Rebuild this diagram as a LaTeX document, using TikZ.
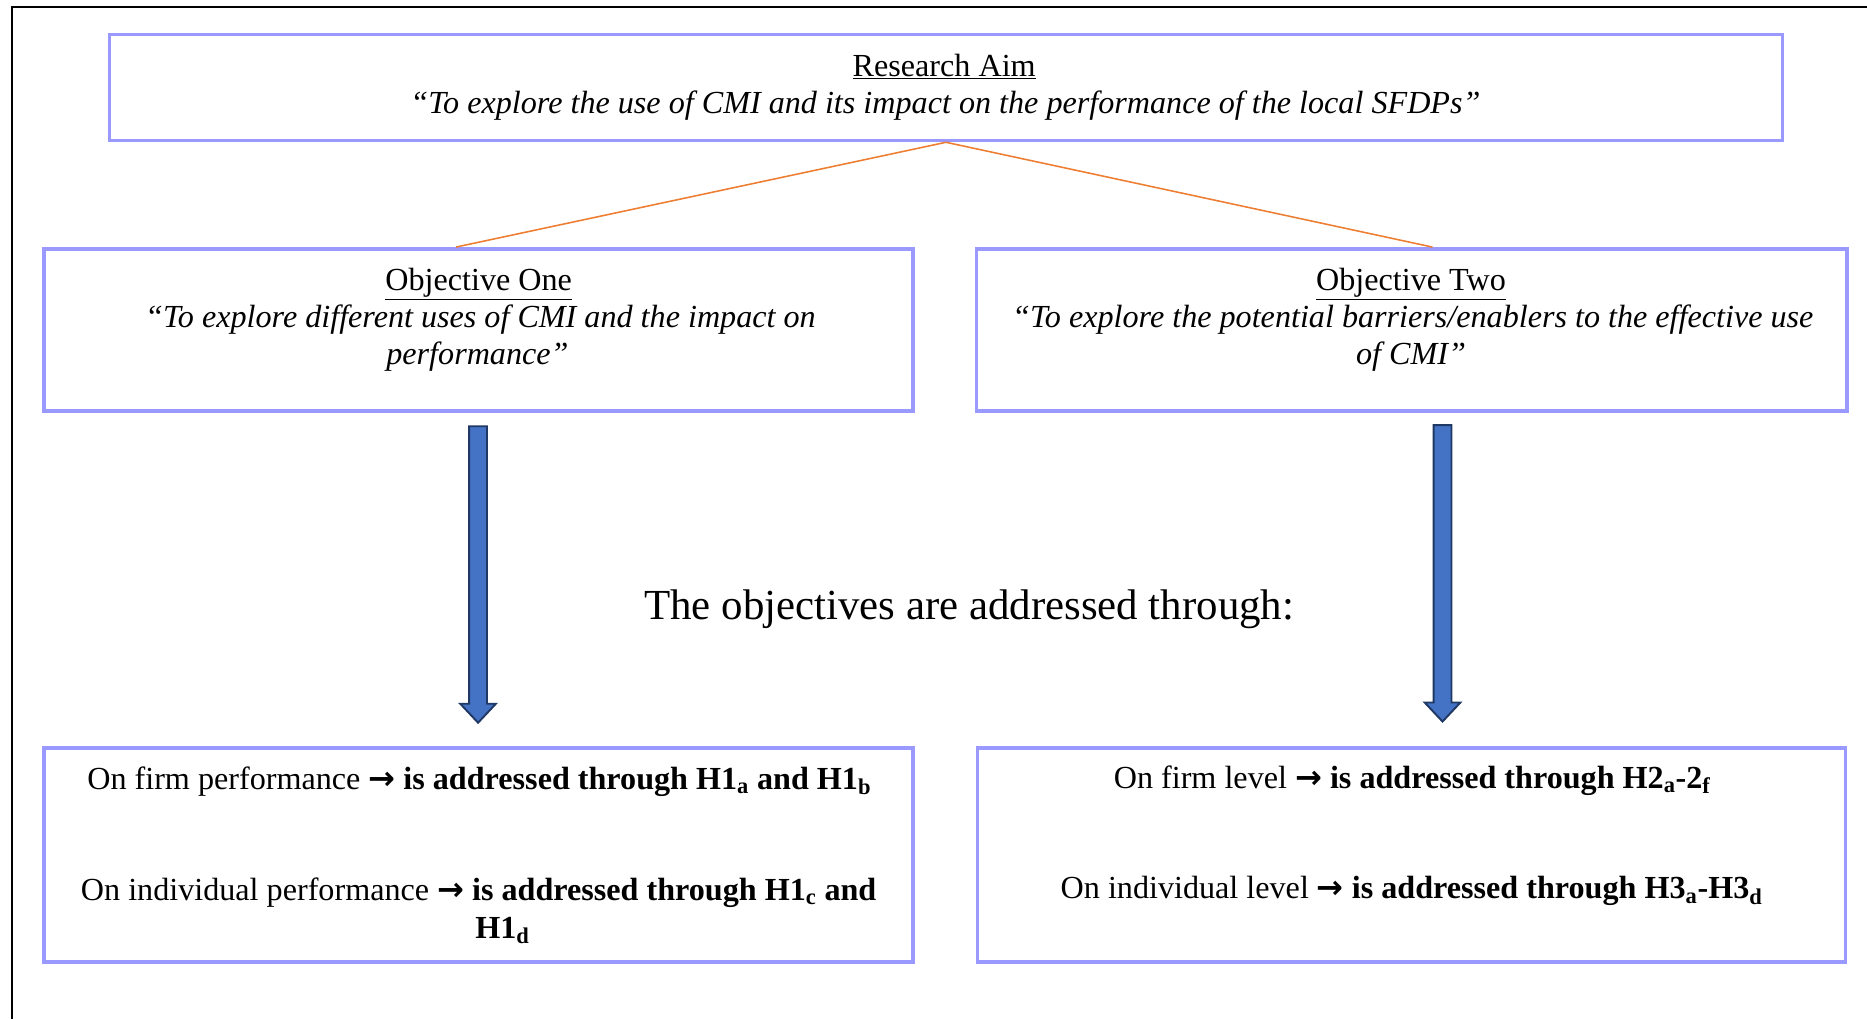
\documentclass[tikz,border=0pt]{standalone}
\usepackage{fontspec}
\setmainfont{Liberation Serif}
\newfontfamily\arrowfont{DejaVu Sans}
\usetikzlibrary{calc}
\definecolor{boxline}{HTML}{9999FF}
\definecolor{linkorange}{HTML}{ED7D31}
\definecolor{arrowfill}{HTML}{4472C4}
\definecolor{arrowedge}{HTML}{1F3864}
\newcommand{\leadsarrow}{{\arrowfont\bfseries →}}
\tikzset{
  panel/.style={draw=boxline, line width=3pt, rectangle, inner sep=0pt},
  txt/.style={anchor=base, inner sep=0pt, font=\fontsize{27}{31}\selectfont},
  bigtxt/.style={anchor=base, inner sep=0pt, font=\fontsize{36}{40}\selectfont},
  link/.style={draw=linkorange, line width=1.3pt},
  blockarrow/.style={fill=arrowfill, draw=arrowedge, line width=1.6pt, line join=miter}
}
\begin{document}
\begin{tikzpicture}[x=1pt, y=-1pt]
\useasboundingbox (0,0) rectangle (1568,856);
% page frame
\draw[line width=2pt] (10,856) -- (10,6) -- (1568,6);

% boxes
\node[panel, minimum width=1405, minimum height=89] (aim) at (794.5,73.5) {};
\node[panel, minimum width=730, minimum height=136] (obj1) at (402,277) {};
\node[panel, minimum width=731, minimum height=136] (obj2) at (1185.5,277) {};
\node[panel, minimum width=730, minimum height=180] (res1) at (402,718) {};
\node[panel, minimum width=729, minimum height=180] (res2) at (1185.5,718) {};

% research aim
\node[txt] (aimtitle) at (793,64) {\underline{Research Aim}};
\node[txt] (aimquote) at (794,95) {\itshape “To explore the use of CMI and its impact on the performance of the local SFDPs”};

% objective one
\node[txt] (o1title) at (402,244) {\underline{Objective One}};
\node[txt] (o1q1) at (403.5,275) {\itshape “To explore different uses of CMI and the impact on};
\node[txt] (o1q2) at (401,306) {\itshape performance”};

% objective two
\node[txt] (o2title) at (1185,244) {\underline{Objective Two}};
\node[txt] (o2q1) at (1186.5,275) {\itshape “To explore the potential barriers/enablers to the effective use};
\node[txt] (o2q2) at (1185,306) {\itshape of CMI”};

% connectors from the aim to the objectives
\draw[link] (aim.south) -- ([xshift=-19pt]obj1.north);
\draw[link] (aim.south) -- ([xshift=17.5pt]obj2.north);

% block arrows
\coordinate (a1top) at (401.5,358);
\coordinate (a1tip) at (401.5,607);
\coordinate (a2top) at (1211.5,357);
\coordinate (a2tip) at (1211.5,606);
\foreach \t/\p in {a1top/a1tip, a2top/a2tip}{
  \draw[blockarrow] ($(\t)+(-7.5,0)$) -- ($(\p)+(-7.5,-16)$) -- ($(\p)+(-15,-16)$)
    -- (\p) -- ($(\p)+(15,-16)$) -- ($(\p)+(7.5,-16)$) -- ($(\t)+(7.5,0)$) -- cycle;
}

% middle statement
\node[bigtxt] (through) at (814,520) {The objectives are addressed through:};

% results, left
\node[txt] (r1a) at (402.5,663) {On firm performance \leadsarrow{} \textbf{is addressed through H1\textsubscript{a} and H1\textsubscript{b}}};
\node[txt] (r1b) at (402,756) {On individual performance \leadsarrow{} \textbf{is addressed through H1\textsubscript{c} and}};
\node[txt] (r1c) at (422,788) {\textbf{H1\textsubscript{d}}};

% results, right
\node[txt] (r2a) at (1186,662) {On firm level \leadsarrow{} \textbf{is addressed through H2\textsubscript{a}-2\textsubscript{f}}};
\node[txt] (r2b) at (1185.5,755) {On individual level \leadsarrow{} \textbf{is addressed through H3\textsubscript{a}-H3\textsubscript{d}}};
\end{tikzpicture}
\end{document}
